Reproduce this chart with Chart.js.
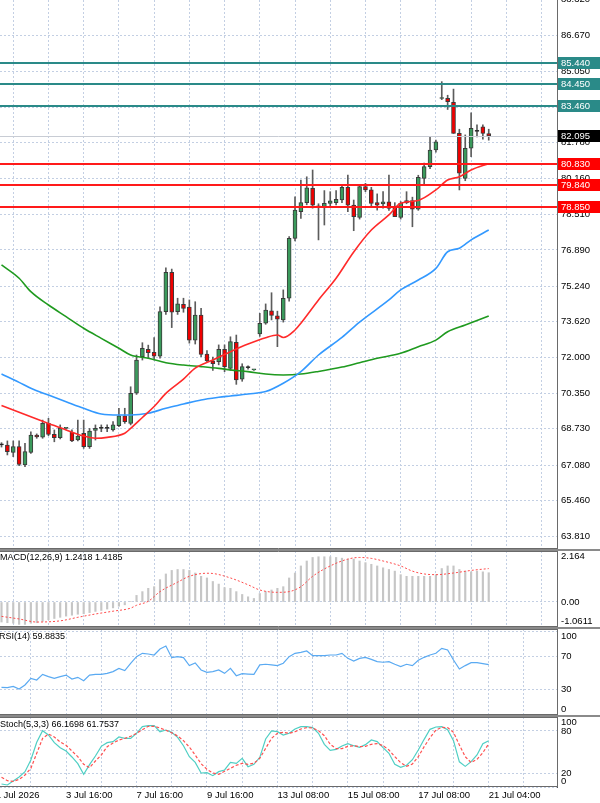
<!DOCTYPE html>
<html><head><meta charset="utf-8">
<script src="https://cdn.jsdelivr.net/npm/chart.js@4.4.1/dist/chart.umd.min.js"></script>
<style>
html,body{margin:0;padding:0;background:#fff;width:600px;height:803px;overflow:hidden;position:relative;}
canvas{position:absolute;left:0;display:block;}
.t{position:absolute;left:0;font:9px "Liberation Sans",Arial,sans-serif;color:#000;white-space:nowrap;line-height:11px;}
.sep{position:absolute;left:0;width:600px;background:#8a8a8a;}
</style></head><body>
<canvas id="cMain" width="600" height="549" style="top:0"></canvas>
<div class="sep" style="top:549px;height:2px"></div>
<canvas id="cMacd" width="600" height="76" style="top:551px"></canvas>
<div class="sep" style="top:627px;height:2px"></div>
<canvas id="cRsi" width="600" height="86" style="top:629px"></canvas>
<div class="sep" style="top:715px;height:2px"></div>
<canvas id="cSto" width="600" height="86" style="top:717px"></canvas>
<div class="t" style="top:552px">MACD(12,26,9) 1.2418 1.4185</div>
<div class="t" style="top:631px;left:-1px">RSI(14) 59.8835</div>
<div class="t" style="top:719px">Stoch(5,3,3) 66.1698 61.7537</div>
<script>
// ---------- DATA ----------
const open = [68.00,67.99,67.66,67.92,67.08,67.66,68.45,68.35,68.98,68.48, 68.33,68.75,68.57,68.22,68.53,67.92,68.66,68.75,68.75,68.68, 68.88,69.33,68.98,70.36,72.02,72.36,72.22,72.05,74.08,75.87, 74.08,74.41,74.28,72.78,73.92,72.14,71.83,71.80,72.36,71.49, 72.68,71.00,71.52,71.42,73.06,73.55,74.12,73.89,73.70,74.69, 77.42,78.64,79.05,79.70,78.90,78.87,79.02,79.05,79.17,79.75, 78.94,78.38,79.78,79.63,79.05,78.99,79.09,78.87,78.38,79.14, 79.14,78.75,80.16,80.69,81.45,83.80,83.81,83.63,82.21,80.16, 81.53,82.30,82.51,82.20];
const high = [68.10,68.18,68.18,68.18,68.07,68.60,68.50,69.13,69.21,68.68, 68.91,68.78,68.68,69.13,69.13,68.75,68.91,68.91,68.91,69.06, 69.67,69.67,70.65,72.10,72.66,72.55,72.89,74.30,76.08,76.02, 74.69,74.69,74.61,74.53,74.23,72.30,72.00,72.56,72.56,72.93, 73.01,71.70,71.60,71.45,74.00,74.43,74.94,74.10,75.07,77.50, 79.32,80.08,80.23,80.54,79.00,79.60,79.55,79.60,79.86,80.31, 79.17,79.86,79.93,79.75,79.45,79.55,80.31,79.05,79.10,79.55, 79.30,80.30,80.85,82.06,81.90,84.57,83.95,84.23,82.40,82.14, 83.15,82.60,82.60,82.40];
const low = [67.90,67.54,67.46,67.05,67.00,67.61,68.30,68.30,68.42,68.14, 68.27,68.72,68.14,68.18,67.84,67.84,68.22,68.60,68.60,68.63, 68.83,68.98,68.91,70.30,71.87,71.95,71.87,71.95,73.95,73.35, 73.95,74.05,72.64,72.60,72.02,71.80,71.40,71.65,71.34,71.40, 70.76,70.90,71.45,71.40,72.95,73.50,73.70,72.48,73.60,74.55, 77.30,78.33,78.95,78.80,77.35,78.03,78.90,78.95,79.05,78.64, 77.77,78.30,79.55,78.90,78.71,78.80,78.70,78.41,78.30,79.00, 77.95,78.70,79.90,80.60,81.35,83.75,83.30,82.21,79.63,80.05, 81.15,82.05,81.95,81.90];
const close = [68.00,67.69,67.92,67.11,67.69,68.45,68.36,68.98,68.48,68.33, 68.75,68.76,68.18,68.40,67.92,68.63,68.75,68.75,68.75,68.91, 69.33,69.06,70.35,71.87,72.40,72.21,72.05,74.08,75.87,74.05, 74.43,74.23,72.78,73.92,72.13,71.83,71.70,72.36,71.57,72.71, 70.96,71.57,71.52,71.43,73.55,74.15,73.91,73.73,74.69,77.42, 78.71,79.05,79.73,78.94,78.85,79.02,79.13,79.20,79.75,78.94, 78.41,79.78,79.63,79.02,78.94,79.09,78.79,78.41,79.02,79.05, 78.75,80.20,80.69,81.45,81.83,83.82,83.66,82.21,80.39,81.53, 82.44,82.30,82.21,82.095];

const maFastIdx = [0,5,8,11,14,16,18,21,22,24,26,28,31,33,36,39,42,45,47,48,50,51,54,57,60,63,66,68,71,74,76,78,80,83];
const maFastVal = [69.80,69.28,68.98,68.68,68.40,68.30,68.34,68.53,68.75,69.25,69.75,70.35,71.00,71.50,71.87,72.25,72.60,72.89,73.01,72.90,73.24,73.55,74.61,75.60,76.80,77.80,78.49,79.02,79.15,79.63,80.08,80.23,80.54,80.83];
const maMidIdx = [0,3,5,8,11,14,17,20,22,25,28,31,34,37,39,42,45,48,51,54,58,61,66,68,71,74,76,78,80,83];
const maMidVal = [71.23,70.85,70.58,70.27,69.97,69.67,69.41,69.36,69.36,69.44,69.67,69.86,70.05,70.17,70.23,70.32,70.43,70.81,71.34,72.10,72.90,73.60,74.61,75.07,75.52,76.05,76.81,76.97,77.35,77.80];
const maSlowIdx = [0,3,5,8,11,14,17,20,22,25,28,31,34,37,39,42,45,48,51,54,58,61,64,68,71,74,76,79,83];
const maSlowVal = [76.21,75.60,74.99,74.38,73.85,73.32,72.86,72.41,72.10,71.95,71.75,71.64,71.57,71.49,71.42,71.34,71.23,71.19,71.23,71.35,71.55,71.75,71.95,72.18,72.48,72.78,73.16,73.47,73.88];

const macdMain = [-0.85,-0.88,-0.90,-0.95,-0.95,-0.90,-0.88,-0.82,-0.75,-0.70,-0.65,-0.60,-0.56,-0.52,-0.50,-0.45,-0.40,-0.36,-0.30,-0.25,-0.18,-0.12,0.02,0.28, 0.44,0.58,0.65,0.95,1.19,1.34,1.38,1.38,1.34,1.23, 1.09,1.02,0.87,0.76,0.61,0.58,0.44,0.32,0.22,0.15, 0.36,0.44,0.51,0.58,0.65,1.02,1.23,1.53,1.74,1.89, 1.92,1.92,1.92,1.89,1.86,1.82,1.82,1.74,1.67,1.60, 1.53,1.45,1.38,1.31,1.16,1.09,1.09,1.09,1.09,1.09, 1.16,1.42,1.53,1.53,1.38,1.31,1.28,1.31,1.28,1.2418];
const macdSignalIdx = [0,3,6,10,13,16,19,22,23,25,27,30,32,35,36,39,42,44,47,49,51,53,56,59,61,63,65,68,70,72,74,77,80,83];
const macdSignalVal = [-0.61,-0.72,-0.85,-0.80,-0.65,-0.51,-0.39,-0.26,-0.14,0.03,0.44,0.84,1.09,1.22,1.21,1.02,0.73,0.51,0.41,0.44,0.65,1.09,1.53,1.82,1.89,1.85,1.74,1.53,1.31,1.19,1.16,1.23,1.34,1.4185];

const rsi = [32.6,32.2,33.8,30.6,35.4,43.4,41.4,48.1,45.4,43.4, 45.4,47.3,42.6,44.6,40.6,47.3,48.1,48.1,49.3,51.4, 55.3,52.6,61.4,69.3,73.3,72.5,71.3,78.5,82.0,68.1, 69.3,68.1,58.6,61.8,53.4,50.6,51.4,53.4,49.3,55.3, 46.5,48.9,48.5,48.1,59.4,60.2,59.4,58.6,61.4,69.3, 73.3,74.5,76.1,70.5,70.5,70.5,71.3,71.3,73.3,67.3, 64.1,67.3,68.5,66.1,63.3,62.6,63.3,60.2,57.4,60.2, 58.6,65.0,68.5,71.3,73.3,79.3,77.3,65.3,54.5,58.6, 62.2,62.2,61.0,59.88];

const stochK = [4.3,2.9,8.6,14.3,21.9,38.6,63.8,80.5,74.3,63.3, 56.2,51.4,42.9,33.3,18.1,31.9,44.3,58.1,63.3,64.8, 71.4,69.5,69.5,76.7,86.2,87.6,87.6,79.0,81.4,78.1, 71.0,59.0,43.3,35.2,20.0,20.5,16.2,21.9,24.3,35.2, 33.8,41.0,29.0,32.4,42.4,68.6,80.0,79.0,74.3,76.7, 82.9,86.2,86.2,84.8,76.7,61.0,52.4,53.8,58.6,61.9, 59.0,56.7,60.5,67.1,64.8,56.2,48.1,32.4,28.1,31.0, 39.0,52.9,68.1,82.4,85.7,86.2,81.9,66.2,36.0,29.5, 36.2,45.7,61.9,66.17];
const stochD = [13.8,9.0,8.1,10.9,17.1,26.7,48.1,69.5,75.7,71.4, 64.3,59.5,51.4,43.3,32.4,27.6,37.1,45.7,57.6,62.9, 67.1,69.5,72.4,76.7,81.9,86.7,86.7,84.3,81.0,77.6, 72.9,66.2,57.1,45.7,33.3,25.2,20.0,18.1,22.4,26.7, 31.0,33.8,32.4,33.8,41.0,55.2,69.5,76.7,78.1,76.7, 79.0,82.9,84.8,84.3,80.5,73.3,61.0,54.8,54.8,58.1, 59.0,57.6,58.1,61.0,61.9,59.0,52.9,43.3,34.8,29.5, 32.9,43.3,57.6,70.5,81.4,85.2,84.8,78.1,60.0,43.3, 34.8,39.5,49.0,61.75];

const priceTicks = [63.81,65.46,67.08,68.73,70.35,72.00,73.62,75.24,76.89,78.51,80.16,81.78,83.41,85.05,86.67,88.32];
const hiddenPriceTicks = [83.41];
const resistanceLevels = [85.44,84.45,83.46];
const supportLevels = [80.83,79.84,78.85];
const lastPrice = 82.095;
const macdTicks = [2.164,0,-1.0611];
const rsiTicks = [100,70,30,0];
const stochTicks = [100,80,20,0];
const xGridIdx = [5,11,17,23,29,35,41,47,53,59,65,71,77,83,89];
const xLabelIdx = [-1,11,23,35,47,59,71,83];
const xLabelText = ['1 Jul 2026','3 Jul 16:00','7 Jul 16:00','9 Jul 16:00','13 Jul 08:00','15 Jul 08:00','17 Jul 08:00','21 Jul 04:00'];

// ---------- STYLE / HELPERS ----------
const FONT = '"Liberation Sans", Arial, sans-serif';
const GRID = '#c3cfe3';
const XMIN = -0.256, XMAX = 94.63;
Chart.defaults.font.family = FONT;
Chart.defaults.font.size = 9.5;
Chart.defaults.color = '#000';

function xScale(showLabels){
  return {
    type:'linear', min:XMIN, max:XMAX, offset:false,
    afterBuildTicks: s => { s.ticks = (showLabels ? [-1].concat(xGridIdx) : xGridIdx).map(v => ({value:v})); },
    afterFit: s => { s.height = showLabels ? 16 : 0; s.paddingLeft = 0; s.paddingRight = 0; },
    grid:{color:GRID, lineWidth:1, drawTicks:false},
    border:{display:false, dash:[2,2]},
    ticks:{display:showLabels, autoSkip:false, maxRotation:0, minRotation:0, align:'start', padding:3,
      font:{family:FONT, size:9.5}, color:'#000',
      callback: v => { const k = xLabelIdx.indexOf(v); return k >= 0 ? xLabelText[k] : ''; }}
  };
}
function yScale(min, max, ticks, fmt){
  return {
    type:'linear', position:'right', min, max,
    afterBuildTicks: s => { s.ticks = ticks.map(v => ({value:v})); },
    afterFit: s => { s.width = 43; s.paddingTop = 0; s.paddingBottom = 0; },
    grid:{color:GRID, lineWidth:1, drawTicks:false},
    border:{display:true, color:'#555', width:1, dash:[2,2]},
    ticks:{autoSkip:false, padding:4, color:'#000', font:{family:FONT, size:9.5}, callback: fmt}
  };
}
// top label pushed below the edge, bottom label above the edge (two-line trick)
function edgeFmt(topV, botV, f){
  return v => v === topV ? ['', f(v)] : (v === botV ? [f(v), ''] : f(v));
}
const pts = (idx, vals) => idx.map((x, k) => ({x, y: vals[k]}));
const series = vals => vals.map((y, i) => ({x:i, y}));

const framePlugin = {
  id:'frame',
  afterDraw(c, args, o){
    const {ctx, chartArea:a} = c;
    ctx.save(); ctx.strokeStyle = '#6a6a6a'; ctx.lineWidth = 1; ctx.setLineDash([]);
    ctx.beginPath();
    if (o.top){ ctx.moveTo(0, a.top + 0.5); ctx.lineTo(a.right, a.top + 0.5); }
    if (o.bottom){ ctx.moveTo(0, a.bottom - 0.5); ctx.lineTo(a.right, a.bottom - 0.5); }
    ctx.moveTo(a.right + 0.5, a.top); ctx.lineTo(a.right + 0.5, a.bottom);
    ctx.stroke(); ctx.restore();
  }
};

const levelPlugin = {
  id:'levels',
  afterDatasetsDraw(c){
    const {ctx, chartArea:a, scales:{y}} = c;
    ctx.save();
    const line = (v, color, w) => {
      const py = Math.round(y.getPixelForValue(v)) + (w % 2 ? 0.5 : 0);
      ctx.strokeStyle = color; ctx.lineWidth = w;
      ctx.beginPath(); ctx.moveTo(a.left, py); ctx.lineTo(a.right, py); ctx.stroke();
    };
    const box = (v, bg) => {
      const py = Math.round(y.getPixelForValue(v));
      ctx.fillStyle = bg; ctx.fillRect(a.right + 1, py - 6, 600 - a.right - 1, 12);
      ctx.fillStyle = '#fff'; ctx.font = '9.5px ' + FONT; ctx.textBaseline = 'middle'; ctx.textAlign = 'left';
      ctx.fillText(v.toFixed(3), a.right + 4, py + 0.5);
    };
    ctx.save(); ctx.beginPath(); ctx.rect(a.left, a.top, a.right - a.left, a.bottom - a.top); ctx.clip();
    line(lastPrice, '#c8ccd4', 1);
    resistanceLevels.forEach(v => line(v, '#2a8a88', 2));
    supportLevels.forEach(v => line(v, '#ff1a1a', 2));
    ctx.restore();
    resistanceLevels.forEach(v => box(v, '#2a8a88'));
    supportLevels.forEach(v => box(v, '#ff0000'));
    box(lastPrice, '#000');
    ctx.restore();
  }
};

const baseOpts = () => ({
  responsive:false, animation:false, events:[], devicePixelRatio:1,
  layout:{padding:0, autoPadding:false},
  plugins:{legend:{display:false}, tooltip:{enabled:false}, frame:{top:true, bottom:true}},
  datasets:{bar:{grouped:false}}
});

// ---------- MAIN ----------
const n = close.length;
const bodyColor = close.map((c, i) => c > open[i] ? '#3b9a5c' : (c < open[i] ? '#f00000' : '#111'));
const mainOpts = baseOpts();
mainOpts.plugins.frame = {top:false, bottom:true};
mainOpts.scales = {
  x: xScale(false),
  y: yScale(63.249, 88.295, priceTicks, v => hiddenPriceTicks.includes(v) ? '' : v.toFixed(3))
};
new Chart(document.getElementById('cMain'), {
  type:'bar',
  data:{datasets:[
    {type:'line', data:pts(maFastIdx, maFastVal), borderColor:'#ff2a2a', borderWidth:1.6, pointRadius:0, cubicInterpolationMode:'monotone', order:1},
    {type:'line', data:pts(maMidIdx, maMidVal), borderColor:'#3399ff', borderWidth:1.6, pointRadius:0, cubicInterpolationMode:'monotone', order:2},
    {type:'line', data:pts(maSlowIdx, maSlowVal), borderColor:'#1f9a1f', borderWidth:1.6, pointRadius:0, cubicInterpolationMode:'monotone', order:3},
    {type:'bar', data:open.map((o, i) => ({x:i, y:[o, close[i]]})), backgroundColor:bodyColor, borderColor:'#3a3a3a', borderWidth:1, borderSkipped:false, barThickness:4, minBarLength:1, order:4},
    {type:'bar', data:open.map((o, i) => ({x:i, y:[low[i], high[i]]})), backgroundColor:'#5c5c5c', barThickness:1, order:5}
  ]},
  options:mainOpts,
  plugins:[framePlugin, levelPlugin]
});

// ---------- MACD ----------
const mo = baseOpts();
mo.scales = {x:xScale(false), y:yScale(-1.0611, 2.164, macdTicks, edgeFmt(2.164, -1.0611, v => v === 0 ? '0.00' : String(v)))};
new Chart(document.getElementById('cMacd'), {
  type:'bar',
  data:{datasets:[
    {type:'line', data:pts(macdSignalIdx, macdSignalVal), borderColor:'#ff4a4a', borderWidth:1, borderDash:[2,2], pointRadius:0, cubicInterpolationMode:'monotone', order:1},
    {type:'bar', data:series(macdMain), backgroundColor:'#c6c6c6', barThickness:1.5, order:2}
  ]},
  options:mo, plugins:[framePlugin]
});

// ---------- RSI ----------
const ro = baseOpts();
ro.scales = {x:xScale(false), y:yScale(-0.5, 102.4, rsiTicks, edgeFmt(100, 0, v => String(v)))};
new Chart(document.getElementById('cRsi'), {
  type:'line',
  data:{datasets:[
    {data:series(rsi), borderColor:'#5aaaf2', borderWidth:1.2, pointRadius:0, tension:0}
  ]},
  options:ro, plugins:[framePlugin]
});

// ---------- STOCH ----------
const so = baseOpts();
so.scales = {x:xScale(true), y:yScale(0, 100, stochTicks, edgeFmt(100, 0, v => String(v)))};
new Chart(document.getElementById('cSto'), {
  type:'line',
  data:{datasets:[
    {data:series(stochK), borderColor:'#4fcfc4', borderWidth:1.2, pointRadius:0, tension:0, order:2},
    {data:series(stochD), borderColor:'#ff5050', borderWidth:1.2, borderDash:[3,2], pointRadius:0, tension:0, order:1}
  ]},
  options:so, plugins:[framePlugin]
});
</script>
</body></html>
